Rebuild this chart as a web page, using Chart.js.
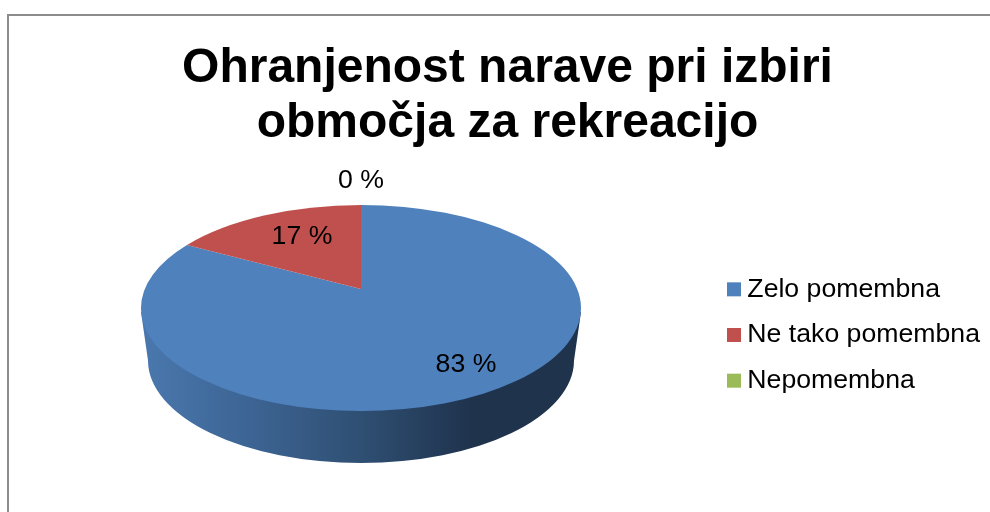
<!DOCTYPE html>
<html><head><meta charset="utf-8">
<style>html,body{margin:0;padding:0;background:#fff;overflow:hidden;width:990px;height:512px}
#wrap{position:absolute;left:0;top:0;width:1015px;height:512px}
#frame{position:absolute;left:7px;top:14px;width:1100px;height:600px;border:2px solid #8c8c8c;box-sizing:border-box}
canvas{position:absolute;left:0;top:0}</style>
<script src="https://cdn.jsdelivr.net/npm/chart.js@4/dist/chart.umd.js"></script>
</head><body>
<div id="frame"></div>
<div id="wrap"><canvas id="c" width="1015" height="512"></canvas></div>
<script>
const titleLines = ["Ohranjenost narave pri izbiri", "območja za rekreacijo"];
const categories = ["Zelo pomembna", "Ne tako pomembna", "Nepomembna"];
const shares = [83, 17, 0];
const sliceColors = ["#4F81BD", "#C0504D", "#9BBB59"];
const sliceLabels = ["83 %", "17 %", "0 %"];
const labelCentres = [[466, 365], [302, 237], [361, 181]];

const FONT = '"Liberation Sans", Arial, sans-serif';
const TILT = -0.1845, RX_RATIO = 220 / 103;
const BASE_RX = 213, BASE_RY = 102.5, BASE_DROP = 52.5;

// Perspective projection of the unit circle: the rim stays an ellipse, the apex moves up.
function rimAngle(theta) {
  const u = Math.cos(theta), v = Math.sin(theta), d = 1 + TILT * v;
  return Math.atan2((v + TILT) / d, u * Math.sqrt(1 - TILT * TILT) / d);
}

const pie3d = {
  id: 'pie3d',
  afterLayout(chart) {
    chart.chartArea = {left: 141, right: 581, top: 205, bottom: 411, width: 440, height: 206};
    const lg = chart.legend;
    lg.left = 715; lg.top = 257;
  },
  beforeDatasetDraw(chart, args) {
    const ctx = chart.ctx, arcs = args.meta.data;
    const a0 = arcs[0], cx = a0.x, cy = a0.y, R = a0.outerRadius, RX = R * RX_RATIO;
    ctx.save();
    // side wall: from the rim's widest points down to the narrower base ellipse
    const g = ctx.createLinearGradient(cx - RX, 0, cx + RX, 0);
    g.addColorStop(0, '#4A78AE');
    g.addColorStop(0.225, '#3E6696');
    g.addColorStop(0.5, '#2F4F73');
    g.addColorStop(0.75, '#1F334D');
    g.addColorStop(1, '#1F334D');
    ctx.fillStyle = g;
    ctx.beginPath();
    ctx.moveTo(cx - RX, cy + 4);
    ctx.lineTo(cx - BASE_RX, cy + BASE_DROP);
    ctx.ellipse(cx, cy + BASE_DROP, BASE_RX, BASE_RY, 0, Math.PI, 0, true);
    ctx.lineTo(cx + RX, cy + 4);
    ctx.closePath();
    ctx.fill();
    // top face, one wedge per library arc
    arcs.forEach((arc) => {
      if (arc.endAngle - arc.startAngle <= 0) return;
      const apexY = cy + R * TILT;
      let t0 = rimAngle(arc.startAngle), t1 = rimAngle(arc.endAngle);
      if (t1 <= t0) t1 += Math.PI * 2;
      ctx.fillStyle = arc.options.backgroundColor;
      ctx.beginPath();
      ctx.moveTo(cx, apexY);
      ctx.ellipse(cx, cy, RX, R, 0, t0, t1);
      ctx.closePath();
      ctx.fill();
    });
    ctx.restore();
    return false;
  },
  afterDraw(chart) {
    const ctx = chart.ctx;
    ctx.save();
    ctx.font = '26.67px ' + FONT;
    ctx.fillStyle = '#000';
    ctx.textAlign = 'center';
    ctx.textBaseline = 'middle';
    sliceLabels.forEach((t, i) => ctx.fillText(t, labelCentres[i][0], labelCentres[i][1]));
    ctx.restore();
  }
};

new Chart(document.getElementById('c'), {
  type: 'pie',
  data: {labels: categories, datasets: [{data: shares, backgroundColor: sliceColors, borderWidth: 0}]},
  options: {
    responsive: false,
    animation: false,
    plugins: {
      tooltip: {enabled: false},
      title: {
        display: true,
        text: titleLines,
        color: '#000',
        font: {family: FONT, size: 48, weight: 'bold', lineHeight: 1.146},
        padding: {top: 41.5, bottom: 10}
      },
      legend: {
        position: 'right',
        align: 'start',
        labels: {
          usePointStyle: true, pointStyle: 'rect', boxWidth: 0.01, boxHeight: 14,
          color: '#000', padding: 19,
          font: {family: FONT, size: 26.67}
        }
      }
    }
  },
  plugins: [pie3d]
});
</script>
</body></html>
